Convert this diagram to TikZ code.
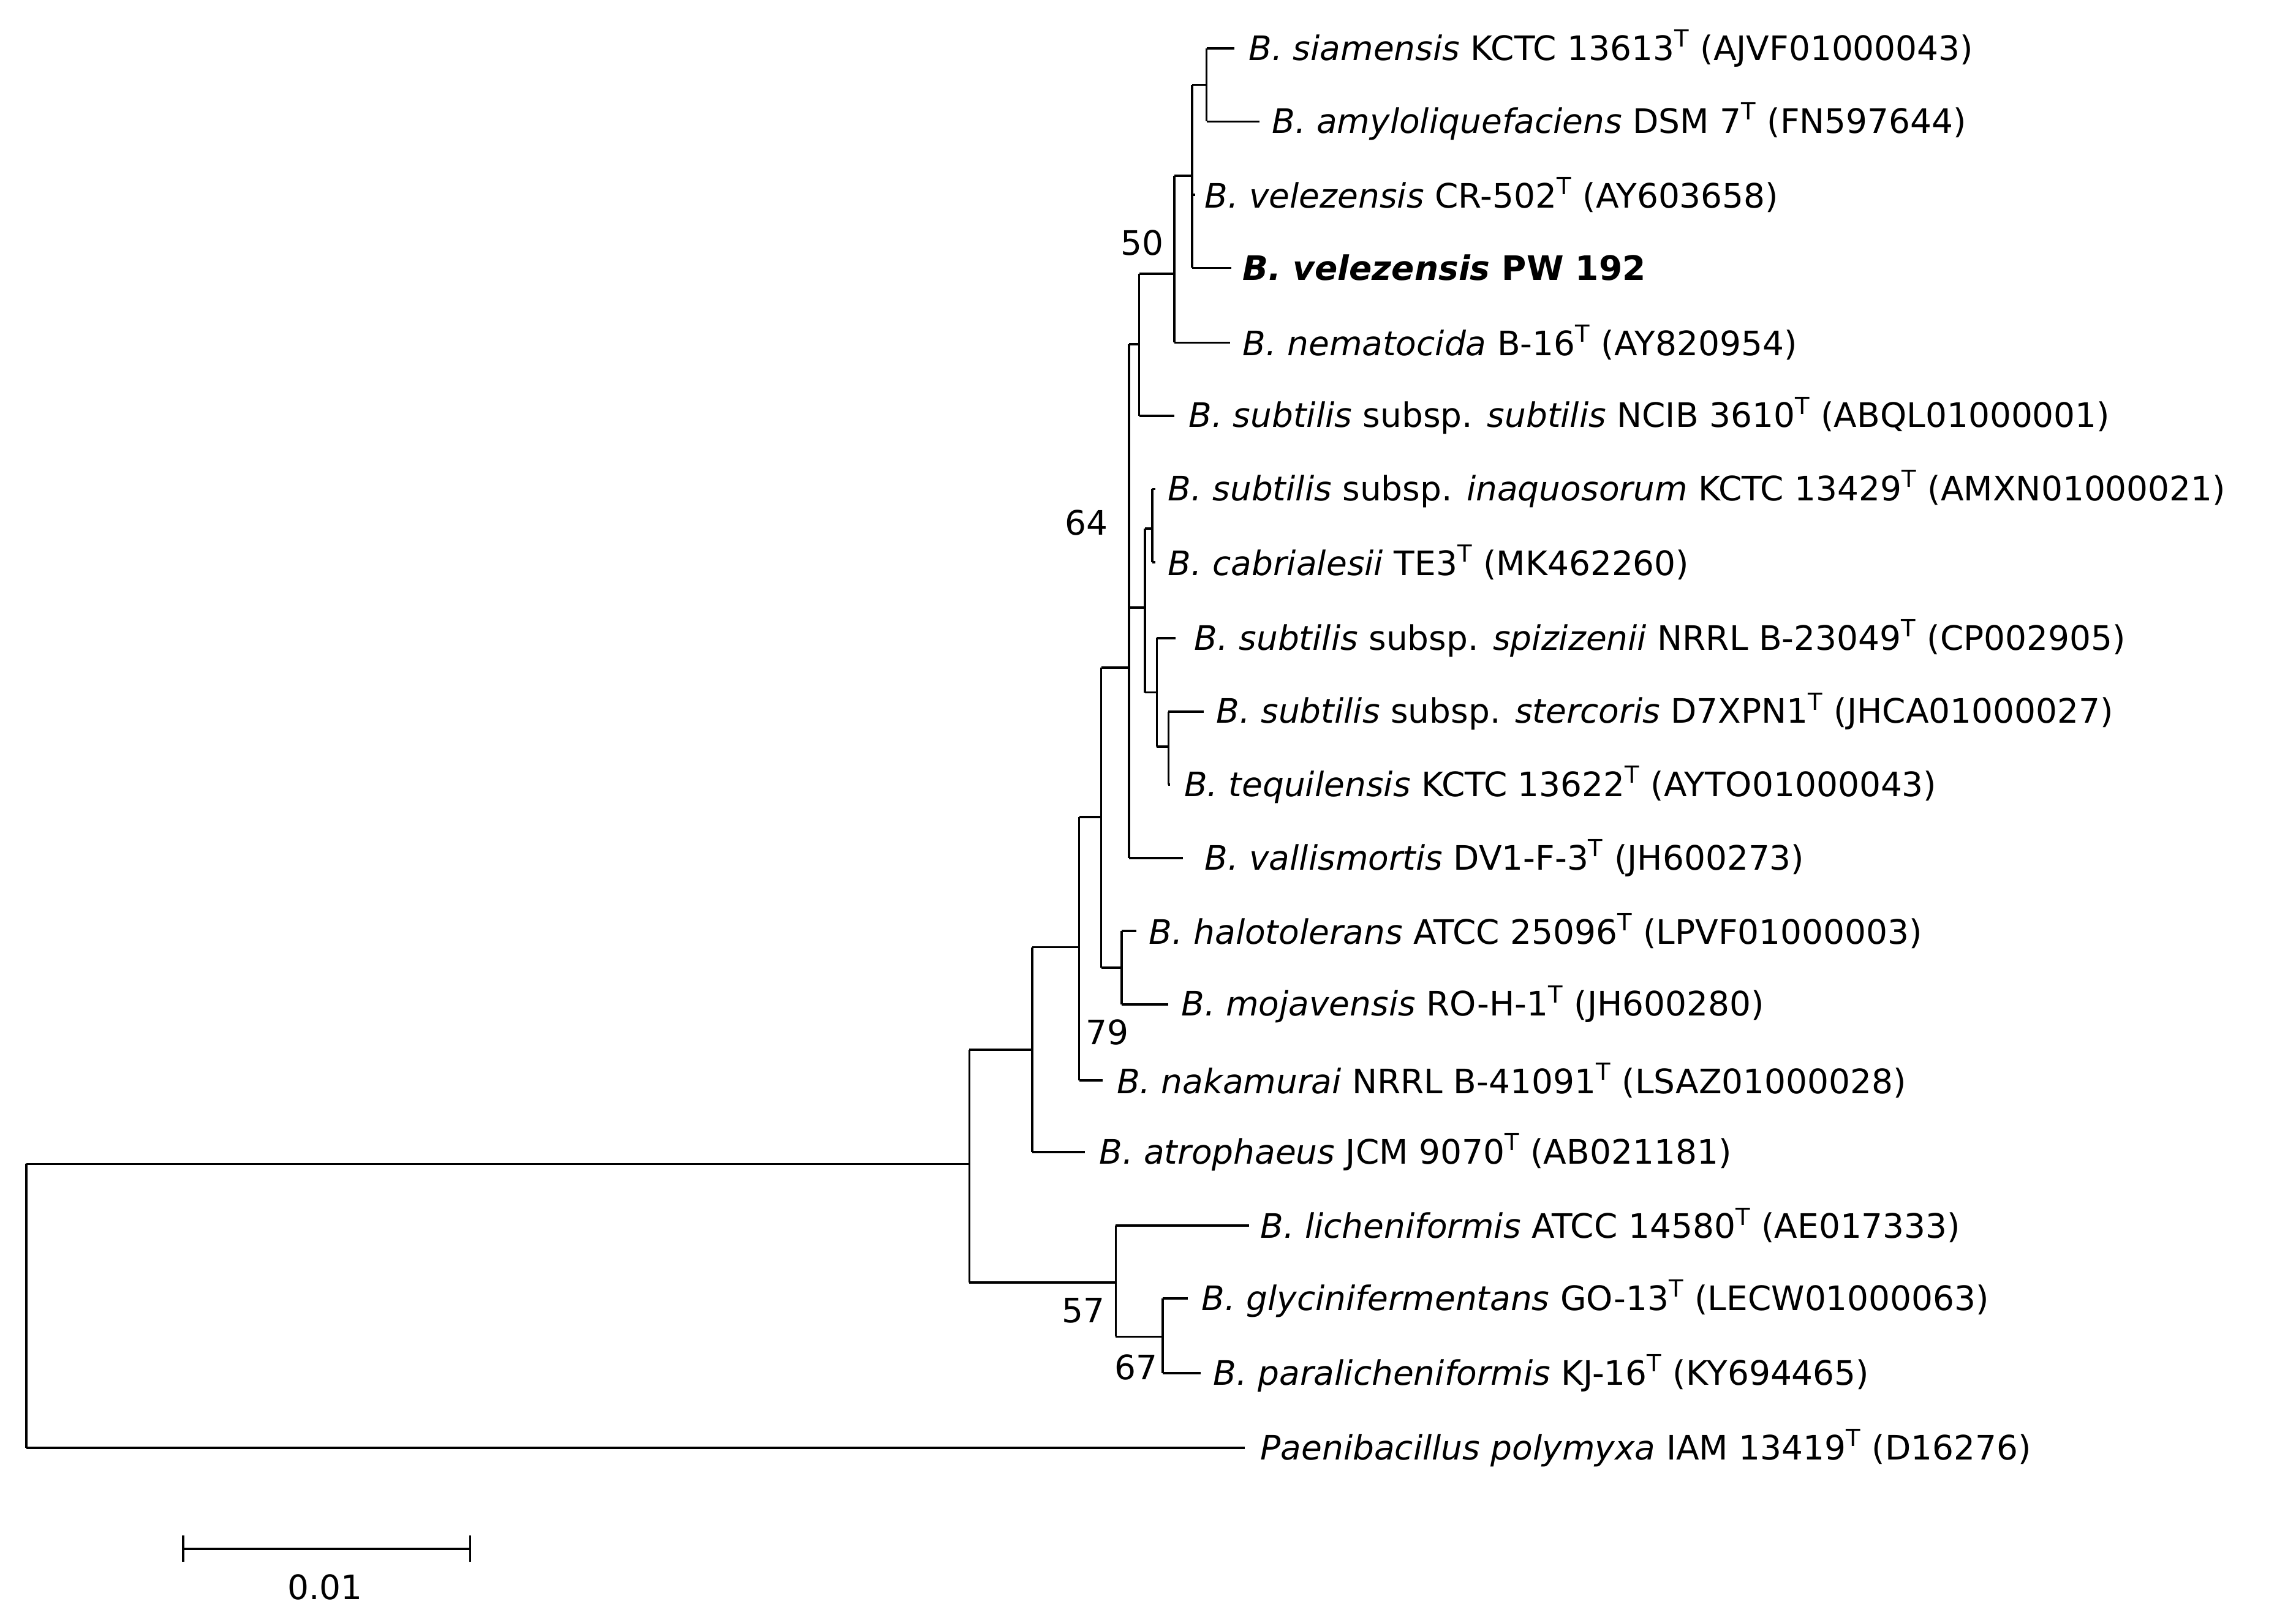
\documentclass[tikz,border=0pt]{standalone}
\usepackage{fontspec}
\setmainfont{DejaVu Sans}
\begin{document}
\begin{tikzpicture}[x=1pt,y=-1pt,line width=1.5pt,
  lab/.style={anchor=west,inner sep=0pt,font=\fontsize{23}{26}\selectfont},
  bs/.style={inner sep=0pt,font=\fontsize{23}{26}\selectfont}]
\useasboundingbox (0,0) rectangle (1568,1101);
% inner nodes
\coordinate (A) at (814,120);
\coordinate (SA) at (824,58);
\coordinate (C) at (802,187);
\coordinate (D) at (778,235);
\coordinate (E) at (771,456);
\coordinate (F) at (782,415);
\coordinate (G) at (787,361);
\coordinate (H) at (790,473);
\coordinate (I) at (798,510);
\coordinate (J) at (752,558);
\coordinate (K) at (766,661);
\coordinate (L) at (737,647);
\coordinate (M) at (705,717);
\coordinate (N) at (662,795);
\coordinate (O) at (762,876);
\coordinate (P) at (794,913);
\coordinate (R) at (18,893);
% leaf tips
\coordinate (t1) at (843,33);
\coordinate (t2) at (860,83);
\coordinate (t3) at (816,133);
\coordinate (t4) at (841,183);
\coordinate (t5) at (840,234);
\coordinate (t6) at (802,284);
\coordinate (t7) at (789,334);
\coordinate (t8) at (789,384);
\coordinate (t9) at (803,436);
\coordinate (t10) at (822,486);
\coordinate (t11) at (799,536);
\coordinate (t12) at (808,586);
\coordinate (t13) at (776,636);
\coordinate (t14) at (798,686);
\coordinate (t15) at (753,738);
\coordinate (t16) at (741,787);
\coordinate (t17) at (853,837);
\coordinate (t18) at (811,887);
\coordinate (t19) at (820,938);
\coordinate (t20) at (850,989);
% verticals
\draw (SA |- t1) -- (SA |- t2);
\draw (A |- SA) -- (A |- t4);
\draw (C |- A) -- (C |- t5);
\draw (D |- C) -- (D |- t6);
\draw (E |- D) -- (E |- t12);
\draw (F |- G) -- (F |- H);
\draw (G |- t7) -- (G |- t8);
\draw (H |- t9) -- (H |- I);
\draw (I |- t10) -- (I |- t11);
\draw (J |- E) -- (J |- K);
\draw (K |- t13) -- (K |- t14);
\draw (L |- J) -- (L |- t15);
\draw (M |- L) -- (M |- t16);
\draw (N |- M) -- (N |- O);
\draw (O |- t17) -- (O |- P);
\draw (P |- t18) -- (P |- t19);
\draw (R |- N) -- (R |- t20);
% horizontals
\draw (SA |- t1) -- (t1);
\draw (SA |- t2) -- (t2);
\draw (A |- SA) -- (SA);
\draw (A |- t3) -- (t3);
\draw (A |- t4) -- (t4);
\draw (C |- A) -- (A);
\draw (C |- t5) -- (t5);
\draw (D |- C) -- (C);
\draw (D |- t6) -- (t6);
\draw (E |- D) -- (D);
\draw (E |- F) -- (F);
\draw (F |- G) -- (G);
\draw (F |- H) -- (H);
\draw (G |- t7) -- (t7);
\draw (G |- t8) -- (t8);
\draw (H |- t9) -- (t9);
\draw (H |- I) -- (I);
\draw (I |- t10) -- (t10);
\draw (I |- t11) -- (t11);
\draw (E |- t12) -- (t12);
\draw (J |- E) -- (E);
\draw (J |- K) -- (K);
\draw (K |- t13) -- (t13);
\draw (K |- t14) -- (t14);
\draw (L |- J) -- (J);
\draw (L |- t15) -- (t15);
\draw (M |- L) -- (L);
\draw (M |- t16) -- (t16);
\draw (N |- M) -- (M);
\draw (N |- O) -- (O);
\draw (O |- t17) -- (t17);
\draw (O |- P) -- (P);
\draw (P |- t18) -- (t18);
\draw (P |- t19) -- (t19);
\draw (R |- N) -- (N);
\draw (R |- t20) -- (t20);
% labels
\node[lab] (n1) at ([xshift=9pt]t1) {\textit{B. siamensis} KCTC 13613\textsuperscript{T} (AJVF01000043)};
\node[lab] (n2) at ([xshift=8pt]t2) {\textit{B. amyloliquefaciens} DSM 7\textsuperscript{T} (FN597644)};
\node[lab] (n3) at ([xshift=6pt]t3) {\textit{B. velezensis} CR-502\textsuperscript{T} (AY603658)};
\node[lab] (n4) at ([xshift=7pt]t4) {\textbf{\textit{B. velezensis} PW 192}};
\node[lab] (n5) at ([xshift=8pt]t5) {\textit{B. nematocida} B-16\textsuperscript{T} (AY820954)};
\node[lab] (n6) at ([xshift=9pt]t6) {\textit{B. subtilis} subsp. \textit{subtilis} NCIB 3610\textsuperscript{T} (ABQL01000001)};
\node[lab] (n7) at ([xshift=8pt]t7) {\textit{B. subtilis} subsp. \textit{inaquosorum} KCTC 13429\textsuperscript{T} (AMXN01000021)};
\node[lab] (n8) at ([xshift=8pt]t8) {\textit{B. cabrialesii} TE3\textsuperscript{T} (MK462260)};
\node[lab] (n9) at ([xshift=12pt]t9) {\textit{B. subtilis} subsp. \textit{spizizenii} NRRL B-23049\textsuperscript{T} (CP002905)};
\node[lab] (n10) at ([xshift=8pt]t10) {\textit{B. subtilis} subsp. \textit{stercoris} D7XPN1\textsuperscript{T} (JHCA01000027)};
\node[lab] (n11) at ([xshift=9pt]t11) {\textit{B. tequilensis} KCTC 13622\textsuperscript{T} (AYTO01000043)};
\node[lab] (n12) at ([xshift=14pt]t12) {\textit{B. vallismortis} DV1-F-3\textsuperscript{T} (JH600273)};
\node[lab] (n13) at ([xshift=8pt]t13) {\textit{B. halotolerans} ATCC 25096\textsuperscript{T} (LPVF01000003)};
\node[lab] (n14) at ([xshift=8pt]t14) {\textit{B. mojavensis} RO-H-1\textsuperscript{T} (JH600280)};
\node[lab] (n15) at ([xshift=9pt]t15) {\textit{B. nakamurai} NRRL B-41091\textsuperscript{T} (LSAZ01000028)};
\node[lab] (n16) at ([xshift=9pt]t16) {\textit{B. atrophaeus} JCM 9070\textsuperscript{T} (AB021181)};
\node[lab] (n17) at ([xshift=7pt]t17) {\textit{B. licheniformis} ATCC 14580\textsuperscript{T} (AE017333)};
\node[lab] (n18) at ([xshift=9pt]t18) {\textit{B. glycinifermentans} GO-13\textsuperscript{T} (LECW01000063)};
\node[lab] (n19) at ([xshift=8pt]t19) {\textit{B. paralicheniformis} KJ-16\textsuperscript{T} (KY694465)};
\node[lab] (n20) at ([xshift=10pt]t20) {\textit{Paenibacillus polymyxa} IAM 13419\textsuperscript{T} (D16276)};
% bootstrap
\node[bs] (b50) at (780,166) {50};
\node[bs] (b64) at (742,357) {64};
\node[bs] (b79) at (756,705) {79};
\node[bs] (b57) at (740,895) {57};
\node[bs] (b67) at (776,934) {67};
% scale bar
\coordinate (s1) at (125,1058);
\coordinate (s2) at (321,1058);
\draw (s1) -- (s2);
\draw ([yshift=-9pt]s1) -- ([yshift=9pt]s1);
\draw ([yshift=-9pt]s2) -- ([yshift=9pt]s2);
\node[bs] (sl) at (222,1084) {0.01};
\end{tikzpicture}
\end{document}
